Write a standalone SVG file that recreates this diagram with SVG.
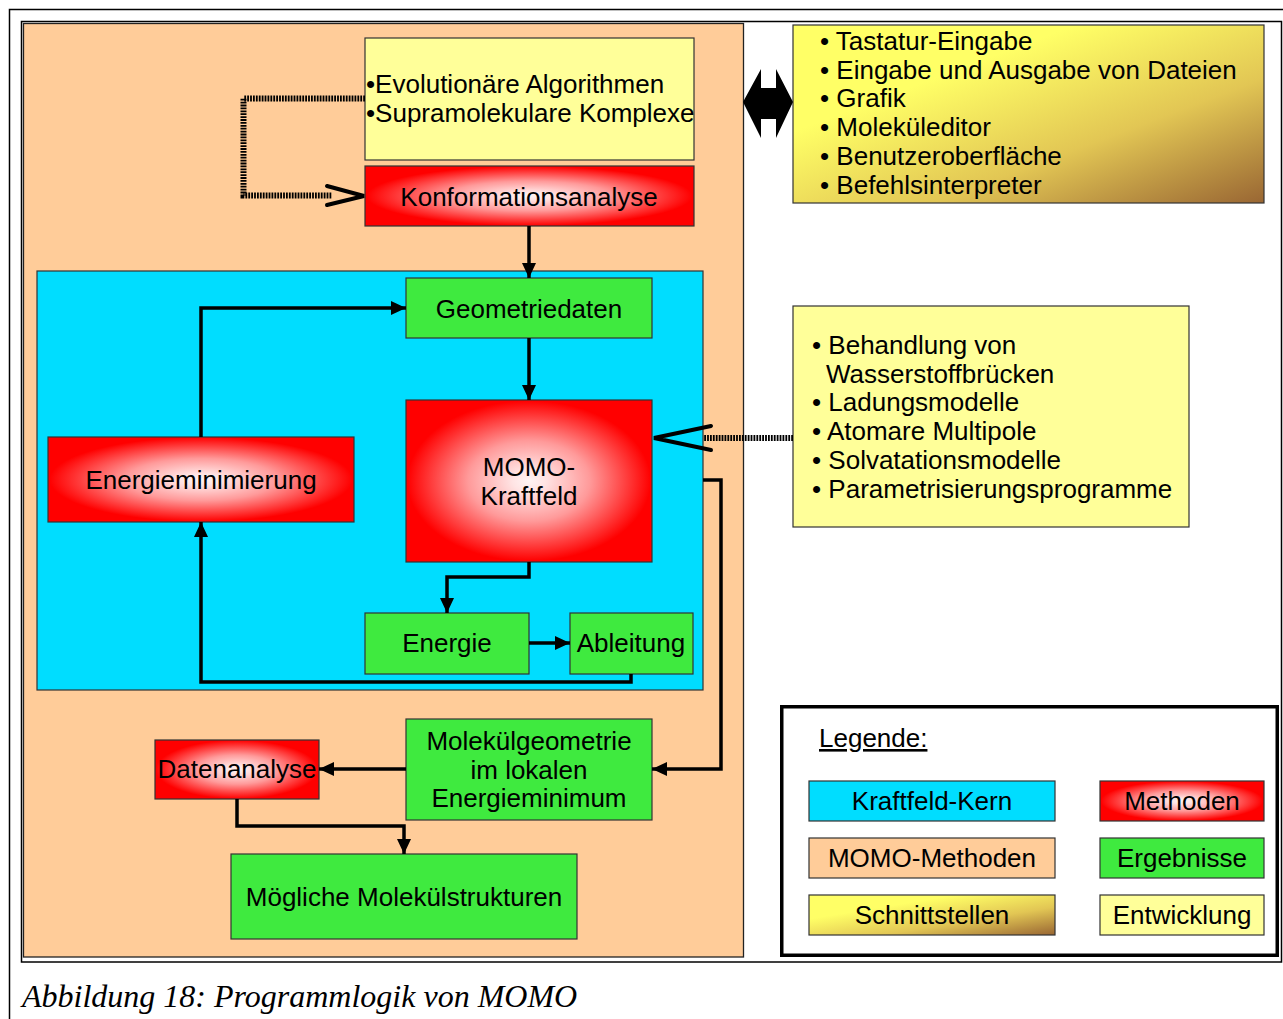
<svg xmlns="http://www.w3.org/2000/svg" width="1283" height="1019" viewBox="0 0 1283 1019">
<style>
  text { font-family: "Liberation Sans", Arial, sans-serif; font-size: 26px; fill: #000; }
  .c { text-anchor: middle; }
  .box { stroke: #333; stroke-width: 1.2; }
  .green { fill: #3FEA3F; }
  .ly { fill: #FFFF99; }
  .red { fill: url(#redGrad); }
  .conn { fill: none; stroke: #000; stroke-width: 3.5; stroke-linejoin: miter; }
  .dot { fill: none; stroke: #000; stroke-width: 6; stroke-dasharray: 1.8 1.1; }
  .open { fill: none; stroke: #000; stroke-width: 4; stroke-linecap: round; stroke-linejoin: miter; }
  .cap { font-family: "Liberation Serif", "Times New Roman", serif; font-style: italic; font-size: 32px; }
</style>
<defs>
  <radialGradient id="redGrad" cx="0.5" cy="0.5" r="0.55">
    <stop offset="0" stop-color="#FFF4F4"/>
    <stop offset="0.12" stop-color="#FFE4E4"/>
    <stop offset="0.45" stop-color="#FF9A9A"/>
    <stop offset="0.9" stop-color="#FF0000"/>
    <stop offset="1" stop-color="#FF0000"/>
  </radialGradient>
  <linearGradient id="ifGrad" x1="0" y1="0" x2="1" y2="1">
    <stop offset="0" stop-color="#FFFF66"/>
    <stop offset="0.3" stop-color="#FFFF66"/>
    <stop offset="0.65" stop-color="#E2C654"/>
    <stop offset="1" stop-color="#996633"/>
  </linearGradient>
  <marker id="ah" markerUnits="userSpaceOnUse" markerWidth="16" markerHeight="14" refX="15" refY="7" orient="auto">
    <path d="M0,0 L15,7 L0,14 Z" fill="#000"/>
  </marker>
</defs>

<!-- frames -->
<path d="M9.5,1019 V9.5 H1283" fill="none" stroke="#000" stroke-width="1.5"/>
<rect x="21.5" y="21.5" width="1260" height="940.5" fill="#fff" stroke="#000" stroke-width="1.5"/>

<!-- MOMO methods region -->
<g id="momo-region">
  <rect x="23.5" y="23.5" width="720" height="933.5" fill="#FFCC99" stroke="#222" stroke-width="1.3"/>
</g>
<!-- Force-field core region -->
<g id="kern-region">
  <rect x="37" y="271" width="666" height="419" fill="#00DDFF" stroke="#333" stroke-width="1.2"/>
</g>

<g id="evo">
  <rect class="box ly" x="365" y="38" width="329" height="122"/>
  <text x="366" y="93">•Evolutionäre Algorithmen</text>
  <text x="366" y="122">•Supramolekulare Komplexe</text>
</g>
<g id="konf">
  <rect class="box red" x="365" y="166" width="329" height="60"/>
  <text class="c" x="529" y="206">Konformationsanalyse</text>
</g>
<g id="geo">
  <rect class="box green" x="406" y="278" width="246" height="60"/>
  <text class="c" x="529" y="318">Geometriedaten</text>
</g>
<g id="kraftfeld">
  <rect class="box red" x="406" y="400" width="246" height="162"/>
  <text class="c" x="529" y="476">MOMO-</text>
  <text class="c" x="529" y="505">Kraftfeld</text>
</g>
<g id="emin">
  <rect class="box red" x="48" y="437" width="306" height="85"/>
  <text class="c" x="201" y="489">Energieminimierung</text>
</g>
<g id="energie">
  <rect class="box green" x="365" y="613" width="164" height="61"/>
  <text class="c" x="447" y="652">Energie</text>
</g>
<g id="ableitung">
  <rect class="box green" x="570" y="613" width="123" height="61"/>
  <text class="c" x="631" y="652">Ableitung</text>
</g>
<g id="molgeo">
  <rect class="box green" x="406" y="719" width="246" height="101"/>
  <text class="c" x="529" y="750">Molekülgeometrie</text>
  <text class="c" x="529" y="779">im lokalen</text>
  <text class="c" x="529" y="807">Energieminimum</text>
</g>
<g id="datenanalyse">
  <rect class="box red" x="155" y="740" width="164" height="59"/>
  <text class="c" x="237" y="778">Datenanalyse</text>
</g>
<g id="moegliche">
  <rect class="box green" x="231" y="854" width="346" height="85"/>
  <text class="c" x="404" y="906">Mögliche Molekülstrukturen</text>
</g>

<g id="schnittstellen">
  <rect class="box" x="793" y="25" width="471" height="178" fill="url(#ifGrad)"/>
  <text x="820" y="50">• Tastatur-Eingabe</text>
  <text x="820" y="79">• Eingabe und Ausgabe von Dateien</text>
  <text x="820" y="107">• Grafik</text>
  <text x="820" y="136">• Moleküleditor</text>
  <text x="820" y="165">• Benutzeroberfläche</text>
  <text x="820" y="194">• Befehlsinterpreter</text>
</g>
<g id="entwicklung">
  <rect class="box ly" x="793" y="306" width="396" height="221"/>
  <text x="812" y="354">• Behandlung von</text>
  <text x="826" y="383">Wasserstoffbrücken</text>
  <text x="812" y="411">• Ladungsmodelle</text>
  <text x="812" y="440">• Atomare Multipole</text>
  <text x="812" y="469">• Solvatationsmodelle</text>
  <text x="812" y="498">• Parametrisierungsprogramme</text>
</g>

<g id="legende">
  <rect x="781.75" y="706.75" width="495.5" height="248.5" fill="#fff" stroke="#000" stroke-width="3.5"/>
  <text x="819" y="747" text-decoration="underline">Legende:</text>
  <rect class="box" x="809" y="781" width="246" height="40" fill="#00DDFF"/>
  <text class="c" x="932" y="810">Kraftfeld-Kern</text>
  <rect class="box red" x="1100" y="781" width="164" height="40"/>
  <text class="c" x="1182" y="810">Methoden</text>
  <rect class="box" x="809" y="838" width="246" height="40" fill="#FFCC99"/>
  <text class="c" x="932" y="867">MOMO-Methoden</text>
  <rect class="box green" x="1100" y="838" width="164" height="40"/>
  <text class="c" x="1182" y="867">Ergebnisse</text>
  <rect class="box" x="809" y="895" width="246" height="40" fill="url(#ifGrad)"/>
  <text class="c" x="932" y="924">Schnittstellen</text>
  <rect class="box ly" x="1100" y="895" width="164" height="40"/>
  <text class="c" x="1182" y="924">Entwicklung</text>
</g>

<g id="connectors">
  <path class="conn" d="M529,226 V278" marker-end="url(#ah)"/>
  <path class="conn" d="M529,338 V400" marker-end="url(#ah)"/>
  <path class="conn" d="M201,437 V308 H406" marker-end="url(#ah)"/>
  <path class="conn" d="M529,562 V577 H447 V613" marker-end="url(#ah)"/>
  <path class="conn" d="M529,643 H570" marker-end="url(#ah)"/>
  <path class="conn" d="M631,674 V682 H201 V522" marker-end="url(#ah)"/>
  <path class="conn" d="M703,480 H721 V769 H652" marker-end="url(#ah)"/>
  <path class="conn" d="M406,769 H319" marker-end="url(#ah)"/>
  <path class="conn" d="M237,799 V826 H404 V854" marker-end="url(#ah)"/>
  <!-- dotted feedback to Konformationsanalyse -->
  <path class="dot" d="M365,98.5 H243.5 V195.5 H332"/>
  <path class="open" d="M327,186 L364,196 L327,205"/>
  <!-- dotted from development box to force field -->
  <path class="dot" d="M793,438 H703"/>
  <path class="open" d="M711,426 L654,438 L711,450"/>
  <!-- double arrow between MOMO and interfaces -->
  <polygon points="743,102 761,69 761,88 776,88 776,69 793,102 776,138 776,119 761,119 761,138" fill="#000"/>
</g>

<text class="cap" x="22" y="1007">Abbildung 18: Programmlogik von MOMO</text>
</svg>
